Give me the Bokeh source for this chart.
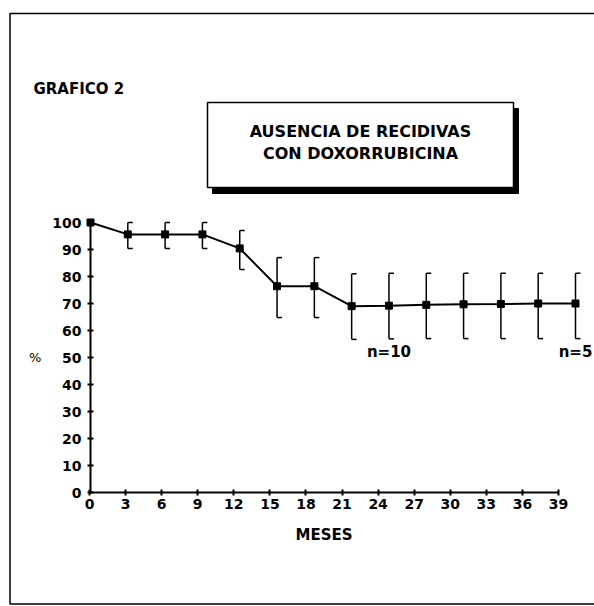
from bokeh.plotting import figure
from bokeh.models import Range1d, LinearAxis, FixedTicker, Label
from bokeh.embed import file_html
from bokeh.resources import INLINE

# ---------------- data ----------------
MONTHS = [0, 3, 6, 9, 12, 15, 18, 21, 24, 27, 30, 33, 36, 39]
PCT = [100, 95.6, 95.6, 95.6, 90.4, 76.4, 76.4, 69.0, 69.2, 69.5, 69.7, 69.8, 70.0, 70.0]
UPPER = [None, 100, 100, 100, 97.0, 87.0, 87.0, 81.0, 81.2, 81.2, 81.2, 81.2, 81.2, 81.2]
LOWER = [None, 90.4, 90.4, 90.4, 82.6, 64.8, 64.8, 56.7, 56.9, 57.0, 57.0, 57.0, 57.0, 57.0]
X_TICKS = [0, 3, 6, 9, 12, 15, 18, 21, 24, 27, 30, 33, 36, 39]
Y_TICKS = [0, 10, 20, 30, 40, 50, 60, 70, 80, 90, 100]
N_TEXT = ["n=10", "n=5"]
N_MONTH = [24, 39]
N_LEVEL = 52
TITLE_LINES = ["AUSENCIA DE RECIDIVAS", "CON DOXORRUBICINA"]
GRAPH_ID = "GRAFICO 2"
X_LABEL = "MESES"
Y_LABEL = "%"

# ---------------- layout ----------------
W, H = 594, 606
MARGIN = 0
# page-pixel geometry of the scanned chart
DX0, DXS = 90.0, 12.436    # data x: page px of x=0 and px per month
AX0, AXS = 89.0, 12.026    # printed x axis: page px of 0 and px per month
Y0, YS = 492.0, 2.7        # y: page px of 0 and px per percent


def px_x(page_x):
    return (page_x - DX0) / DXS


def px_y(page_y):
    return (Y0 - page_y) / YS


FONT = "DejaVu Sans"

p = figure(width=W, height=H,
           x_range=Range1d(px_x(MARGIN), px_x(MARGIN + W)),
           y_range=Range1d(px_y(MARGIN + H), px_y(MARGIN)),
           output_backend="svg", toolbar_location=None,
           x_axis_type=None, y_axis_type=None, min_border=0,
           outline_line_color=None, background_fill_color="white",
           border_fill_color="white")

p.extra_x_ranges = {"axis": Range1d((MARGIN - AX0) / AXS, (MARGIN + W - AX0) / AXS)}

xaxis = LinearAxis(x_range_name="axis", ticker=FixedTicker(ticks=X_TICKS),
                   fixed_location=0, bounds=(X_TICKS[0], X_TICKS[-1]),
                   axis_label=X_LABEL)
yaxis = LinearAxis(ticker=FixedTicker(ticks=Y_TICKS), fixed_location=0,
                   bounds=(Y_TICKS[0], Y_TICKS[-1]), axis_label=Y_LABEL,
                   axis_label_orientation="horizontal")
for ax in (xaxis, yaxis):
    ax.axis_line_width = 2
    ax.axis_line_color = "black"
    ax.major_tick_line_color = "black"
    ax.major_tick_line_width = 2
    ax.major_tick_in = 3
    ax.major_tick_out = 3
    ax.minor_tick_line_color = None
    ax.major_label_text_font = FONT
    ax.major_label_text_font_style = "bold"
    ax.major_label_text_font_size = "14px"
    ax.major_label_text_color = "black"
    ax.axis_label_text_font = FONT
    ax.axis_label_text_font_style = "bold"
    ax.axis_label_text_color = "black"
xaxis.major_label_standoff = 3
xaxis.axis_label_text_font_size = "15px"
xaxis.axis_label_standoff = 14
yaxis.major_label_standoff = 6
yaxis.axis_label_text_font_size = "13px"
yaxis.axis_label_text_font_style = "normal"
yaxis.axis_label_standoff = 8
p.add_layout(xaxis, "below")
p.add_layout(yaxis, "left")

# outer scan border (left, top, bottom)
p.line(x=[px_x(600), px_x(9.5), px_x(9.5), px_x(600)],
       y=[px_y(603.5), px_y(603.5), px_y(13), px_y(13)],
       line_color="black", line_width=1.5)

# error bars: vertical + serifs toward the right
SERIF = 0.4
ex = [m for m, u in zip(MONTHS, UPPER) if u is not None]
hi = [u for u in UPPER if u is not None]
lo = [l for l in LOWER if l is not None]
p.segment(x0=ex, y0=lo, x1=ex, y1=hi, line_color="black", line_width=1.5)
p.segment(x0=ex, y0=hi, x1=[x + SERIF for x in ex], y1=hi, line_color="black", line_width=1.5)
p.segment(x0=ex, y0=lo, x1=[x + SERIF for x in ex], y1=lo, line_color="black", line_width=1.5)

# survival line and markers
p.line(MONTHS, PCT, line_color="black", line_width=2)
p.scatter(MONTHS, PCT, marker="square", size=7, color="black")

# n labels
for t, m in zip(N_TEXT, N_MONTH):
    p.add_layout(Label(x=m, y=N_LEVEL, text=t, text_align="center", text_baseline="middle",
                       text_font=FONT, text_font_style="bold", text_font_size="15px",
                       text_color="black"))

# title box with shadow
p.quad(left=px_x(212), right=px_x(518), top=px_y(108), bottom=px_y(193),
       fill_color="black", line_color="black")
p.quad(left=px_x(207), right=px_x(513), top=px_y(102), bottom=px_y(187),
       fill_color="white", line_color="black", line_width=1.5)
for t, py in zip(TITLE_LINES, [131, 153]):
    p.add_layout(Label(x=px_x(360), y=px_y(py), text=t, text_align="center",
                       text_baseline="middle", text_font=FONT, text_font_style="bold",
                       text_font_size="16px", text_color="black"))

p.add_layout(Label(x=px_x(33), y=px_y(88), text=GRAPH_ID, text_align="left",
                   text_baseline="middle", text_font=FONT, text_font_style="bold",
                   text_font_size="15px", text_color="black"))

open("out.html", "w").write(file_html(p, INLINE))
